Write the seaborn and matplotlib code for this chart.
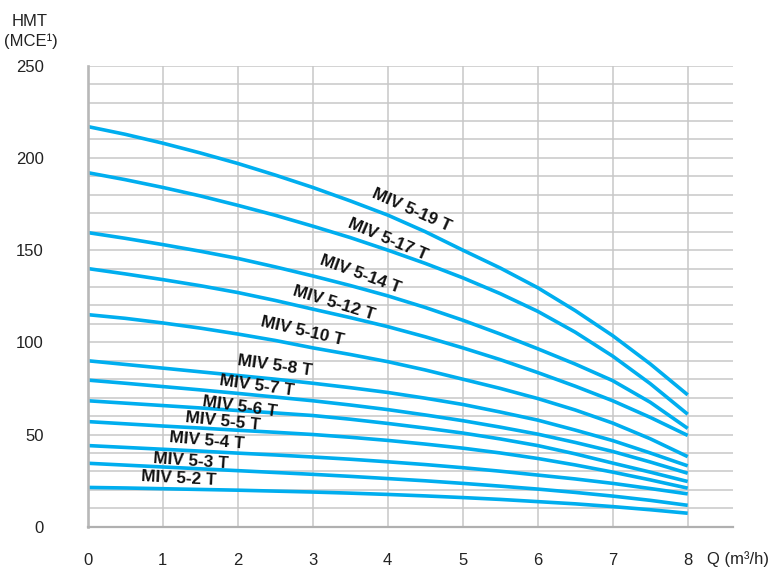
import numpy as np
import pandas as pd
import matplotlib
matplotlib.use("Agg")
import matplotlib.pyplot as plt
import seaborn as sns
from matplotlib.ticker import MultipleLocator

# ---- data ----
flow = [0, 0.5, 1, 1.5, 2, 2.5, 3, 3.5, 4, 4.5, 5, 5.5, 6, 6.5, 7, 7.5, 8]
models = ["MIV 5-2 T", "MIV 5-3 T", "MIV 5-4 T", "MIV 5-5 T", "MIV 5-6 T", "MIV 5-7 T",
          "MIV 5-8 T", "MIV 5-10 T", "MIV 5-12 T", "MIV 5-14 T", "MIV 5-17 T", "MIV 5-19 T"]
h_5_2 = [21.3, 21.0, 20.6, 20.2, 19.8, 19.3, 18.8, 18.2, 17.5, 16.7, 15.8, 14.8, 13.6, 12.4, 10.9, 9.2, 7.3]
h_5_3 = [34.4, 33.4, 32.4, 31.4, 30.4, 29.4, 28.4, 27.3, 26.1, 24.9, 23.5, 22.0, 20.4, 18.6, 16.6, 14.3, 11.6]
h_5_4 = [44.0, 43.0, 42.0, 41.0, 39.9, 38.9, 37.8, 36.6, 35.2, 33.7, 32.0, 30.1, 28.0, 25.9, 23.5, 20.7, 17.8]
h_5_5 = [57.0, 55.8, 54.6, 53.5, 52.3, 51.2, 50.0, 48.5, 46.8, 44.8, 42.6, 40.0, 37.0, 33.5, 29.6, 25.4, 20.9]
h_5_6 = [68.3, 67.0, 65.7, 64.4, 63.0, 61.7, 60.3, 58.3, 56.0, 53.5, 50.8, 47.6, 44.0, 39.5, 34.5, 29.6, 24.5]
h_5_7 = [79.5, 77.8, 76.0, 74.2, 72.3, 70.3, 68.3, 66.0, 63.5, 60.6, 57.5, 54.0, 50.2, 45.7, 40.8, 35.1, 29.0]
h_5_8 = [90.0, 88.0, 86.0, 84.0, 82.0, 80.0, 77.8, 75.4, 72.8, 69.7, 66.3, 62.2, 57.8, 52.4, 46.7, 40.0, 33.0]
h_5_10 = [115.0, 113.0, 110.5, 107.7, 104.5, 101.0, 97.0, 93.4, 89.5, 85.0, 80.0, 75.0, 69.5, 63.3, 56.2, 47.7, 38.0]
h_5_12 = [140.0, 137.1, 134.0, 130.7, 127.0, 122.7, 118.0, 113.4, 108.5, 103.0, 97.0, 90.6, 83.6, 76.2, 68.3, 59.3, 49.5]
h_5_14 = [159.5, 156.4, 153.0, 149.4, 145.5, 140.9, 136.0, 130.8, 125.2, 118.9, 112.0, 104.5, 96.5, 88.2, 79.2, 67.5, 53.3]
h_5_17 = [192.0, 188.2, 184.0, 179.4, 174.3, 168.9, 163.0, 156.8, 150.0, 142.8, 135.0, 126.4, 116.8, 105.5, 92.5, 77.6, 61.0]
h_5_19 = [217.0, 212.8, 208.0, 202.7, 197.0, 190.7, 184.0, 176.7, 169.0, 160.0, 150.0, 140.3, 129.6, 117.2, 103.6, 88.3, 71.5]
heads = [h_5_2, h_5_3, h_5_4, h_5_5, h_5_6, h_5_7, h_5_8, h_5_10, h_5_12, h_5_14, h_5_17, h_5_19]

x_ticks = [0, 1, 2, 3, 4, 5, 6, 7, 8]
y_ticks = [0, 50, 100, 150, 200, 250]

# label placement (annotation positions in data units, rotation in degrees)
label_place = {
    "MIV 5-2 T": (1.22, 25.9, -3),
    "MIV 5-3 T": (1.37, 35.7, -4),
    "MIV 5-4 T": (1.59, 46.6, -5),
    "MIV 5-5 T": (1.80, 57.0, -6),
    "MIV 5-6 T": (2.03, 65.0, -8),
    "MIV 5-7 T": (2.26, 76.5, -8),
    "MIV 5-8 T": (2.50, 87.3, -8),
    "MIV 5-10 T": (2.86, 105.8, -13),
    "MIV 5-12 T": (3.28, 121.0, -17),
    "MIV 5-14 T": (3.63, 136.8, -20),
    "MIV 5-17 T": (4.00, 155.8, -23),
    "MIV 5-19 T": (4.32, 171.6, -24),
}

df = pd.DataFrame({
    "Q": np.tile(flow, len(models)),
    "H": np.concatenate(heads),
    "model": np.repeat(models, len(flow)),
})

sns.set_style("white")
plt.rcParams["font.family"] = ["Liberation Sans", "DejaVu Sans"]

fig = plt.figure(figsize=(7.79, 5.70), dpi=100)
ax = fig.add_axes([87.7 / 779, (570 - 526.7) / 570, 645 / 779, 461 / 570])

grid_c = "#c8c8c8"
curve_c = "#00aeef"

sns.lineplot(data=df, x="Q", y="H", hue="model", palette=[curve_c] * len(models),
             legend=False, ax=ax, linewidth=2.6, estimator=None, sort=True)
for ln in ax.get_lines():
    ln.set_solid_joinstyle("round")
    ln.set_solid_capstyle("butt")

ax.set_xlim(0, 8.6)
ax.set_ylim(0, 250)
ax.set_xticks(x_ticks)
ax.set_xticklabels([str(v) for v in x_ticks])
ax.set_yticks(y_ticks)
ax.set_yticklabels([str(v) for v in y_ticks])
ax.yaxis.set_minor_locator(MultipleLocator(10))
ax.set_xlabel("")
ax.set_ylabel("")

ax.set_axisbelow(True)
ax.grid(which="both", axis="y", color=grid_c, linewidth=1.1)
ax.grid(which="major", axis="x", color=grid_c, linewidth=1.1)

ax.tick_params(axis="y", which="major", length=24.5, width=1.1, color=grid_c,
               pad=7, labelsize=12, labelcolor="#222222")
ax.tick_params(axis="y", which="minor", length=0)
ax.tick_params(axis="x", which="major", length=11, width=1.1, color=grid_c,
               pad=8, labelsize=12, labelcolor="#222222")

for s in ["top", "right"]:
    ax.spines[s].set_visible(False)
ax.spines["left"].set_color("#b8b8b8")
ax.spines["left"].set_linewidth(1.9)
ax.spines["bottom"].set_color("#b0b0b0")
ax.spines["bottom"].set_linewidth(1.6)

t0 = ax.yaxis.get_major_ticks()[0]
t0.tick1line.set_markersize(14)
t0.tick1line.set_color("#b0b0b0")
t0.tick1line.set_markeredgewidth(1.6)

for name in models:
    lx, ly, rot = label_place[name]
    ax.text(lx, ly, name, ha="center", va="center", rotation=rot, rotation_mode="anchor",
            fontsize=12.3, fontweight="bold", color="#111111",
            family=["Liberation Sans Narrow", "Liberation Sans", "DejaVu Sans"])

fig.text(30 / 779, 1 - 21.5 / 570, "HMT", ha="center", va="center", fontsize=12, color="#222222")
fig.text(30.5 / 779, 1 - 41 / 570, "(MCE\u00b9)", ha="center", va="center", fontsize=12, color="#222222")
fig.text(707 / 779, 1 - 559 / 570, "Q (m\u00b3/h)", ha="left", va="center", fontsize=12, color="#222222")

fig.savefig("out.png", dpi=100)
